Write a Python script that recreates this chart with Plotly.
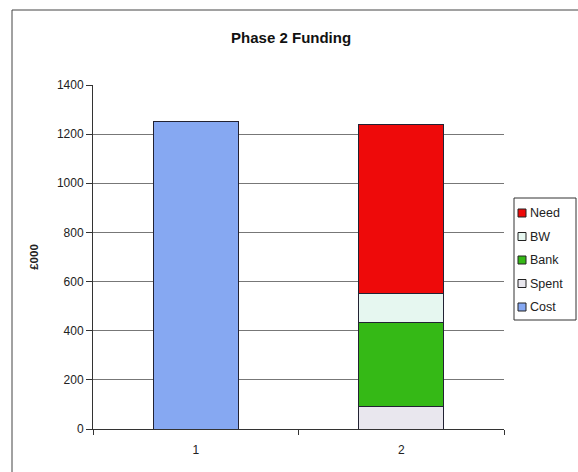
import plotly.graph_objects as go

categories = ["1", "2"]
cost = [1250, None]
spent = [None, 90]
bank = [None, 345]
bw = [None, 115]
need = [None, 690]

series = [
    ("Cost", cost, "#86a8f2"),
    ("Spent", spent, "#e9e7ee"),
    ("Bank", bank, "#35b916"),
    ("BW", bw, "#e6f7f0"),
    ("Need", need, "#ee0a0a"),
]

W, H = 578, 472
L, R, T, B = 93, 74, 85, 43
PW, PH = W - L - R, H - T - B


def px(x):
    return (x - L) / PW


def py(y):
    return 1 - (y - T) / PH


fig = go.Figure()
for name, vals, col in series:
    fig.add_trace(go.Bar(
        x=categories, y=vals, name=name, showlegend=False,
        marker=dict(color=col, line=dict(color="#222233", width=1)),
    ))

font = "Liberation Sans, Arial, sans-serif"
fig.update_layout(
    width=W, height=H,
    barmode="stack", bargap=0.585,
    paper_bgcolor="white", plot_bgcolor="white",
    margin=dict(l=L, r=R, t=T, b=B, autoexpand=False),
    font=dict(family=font, size=12, color="#222222"),
    title=dict(text="<b>Phase 2 Funding</b>", x=px(300), xanchor="center",
               y=1 - 38 / H, yanchor="middle", font=dict(size=15, color="#111111")),
    showlegend=False,
)
fig.update_yaxes(range=[0, 1400], dtick=200, showgrid=True, gridcolor="#777777",
                 gridwidth=1, ticks="outside", ticklen=6, tickcolor="#333333",
                 showline=True, linecolor="#333333", linewidth=1, automargin=False,
                 title=dict(text="<b>£000</b>", standoff=15, font=dict(size=11.5)),
                 zeroline=False)
fig.update_xaxes(type="category", showline=True, linecolor="#333333", linewidth=1,
                 ticks="outside", tickson="boundaries", ticklen=5, tickcolor="#333333",
                 tickfont=dict(size=12), ticklabelstandoff=10, automargin=False)

# outer chart border
fig.add_shape(type="rect", xref="paper", yref="paper", x0=px(12), x1=px(W + 20),
              y0=py(H + 20), y1=py(10), line=dict(color="#444444", width=1),
              fillcolor="rgba(0,0,0,0)", layer="below")

# legend (custom)
fig.add_shape(type="rect", xref="paper", yref="paper", x0=px(514), x1=px(576),
              y0=py(320), y1=py(198), line=dict(color="#333333", width=1),
              fillcolor="white")
item_y = [213, 236.5, 260, 283.5, 307]
for (name, vals, col), yy in zip(list(reversed(series)), item_y):
    fig.add_shape(type="rect", xref="paper", yref="paper", x0=px(518), x1=px(526),
                  y0=py(yy + 4), y1=py(yy - 4), line=dict(color="#222222", width=1),
                  fillcolor=col)
    fig.add_annotation(text=name, xref="paper", yref="paper", x=px(528), y=py(yy),
                       xanchor="left", yanchor="middle", showarrow=False,
                       font=dict(size=12.5, color="#222222"))

fig.write_html("out.html", config={"displayModeBar": False},
               post_script="document.body.style.margin='0';")
